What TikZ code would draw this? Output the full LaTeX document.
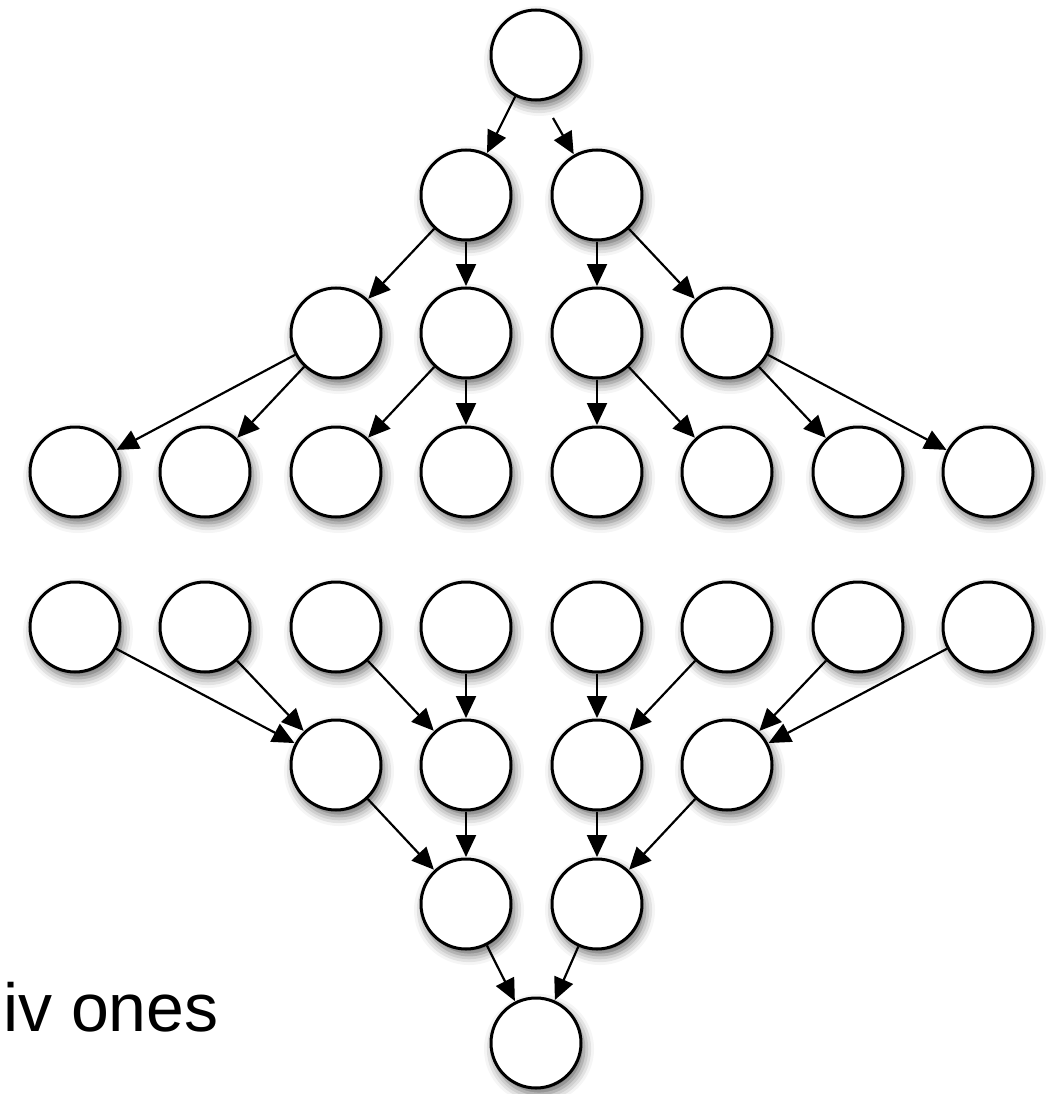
\documentclass[tikz,border=0pt]{standalone}
\usepackage{fontspec}
\setmainfont{Liberation Sans}
\usetikzlibrary{arrows.meta,shadows.blur}
\begin{document}
\begin{tikzpicture}[x=1pt,y=-1pt,
  nd/.style={circle,draw=black,line width=3pt,fill=white,minimum size=90pt,inner sep=0pt,
    blur shadow={shadow xshift=3pt,shadow yshift=-6pt,shadow blur radius=10pt,shadow opacity=60}},
  ar/.style={line width=2.2pt,-{Triangle[length=22pt,width=20pt]},shorten >=0.5pt}]
\useasboundingbox (0,0) rectangle (1058,1094);
% top tree
\node[nd] (r) at (536,55) {};
\node[nd] (a1) at (466,195) {};
\node[nd] (a2) at (597,195) {};
\foreach \i/\x in {1/336,2/466,3/597,4/727}{\node[nd] (b\i) at (\x,333) {};}
\foreach \i/\x in {1/75,2/205,3/336,4/466,5/597,6/727,7/858,8/988}{\node[nd] (c\i) at (\x,472) {};}
% bottom tree
\foreach \i/\x in {1/75,2/205,3/336,4/466,5/597,6/727,7/858,8/988}{\node[nd] (d\i) at (\x,627) {};}
\foreach \i/\x in {1/336,2/466,3/597,4/727}{\node[nd] (e\i) at (\x,765) {};}
\node[nd] (f1) at (466,904) {};
\node[nd] (f2) at (597,904) {};
\node[nd] (g) at (536,1043) {};
\coordinate (rs) at (553,118);
% arrows top
\draw[ar] (r) -- (a1);
\draw[ar] (rs) -- (a2);
\draw[ar] (a1) -- (b1); \draw[ar] (a1) -- (b2);
\draw[ar] (a2) -- (b3); \draw[ar] (a2) -- (b4);
\draw[ar] (b1) -- (c1); \draw[ar] (b1) -- (c2);
\draw[ar] (b2) -- (c3); \draw[ar] (b2) -- (c4);
\draw[ar] (b3) -- (c5); \draw[ar] (b3) -- (c6);
\draw[ar] (b4) -- (c7); \draw[ar] (b4) -- (c8);
% arrows bottom
\draw[ar] (d1) -- (e1); \draw[ar] (d2) -- (e1);
\draw[ar] (d3) -- (e2); \draw[ar] (d4) -- (e2);
\draw[ar] (d5) -- (e3); \draw[ar] (d6) -- (e3);
\draw[ar] (d7) -- (e4); \draw[ar] (d8) -- (e4);
\draw[ar] (e1) -- (f1); \draw[ar] (e2) -- (f1);
\draw[ar] (e3) -- (f2); \draw[ar] (e4) -- (f2);
\draw[ar] (f1) -- (g); \draw[ar] (f2) -- (g);
% text
\node[anchor=base west,inner sep=0pt,font=\fontsize{68}{82}\selectfont] (t) at (3,1031) {iv ones};
\end{tikzpicture}
\end{document}
